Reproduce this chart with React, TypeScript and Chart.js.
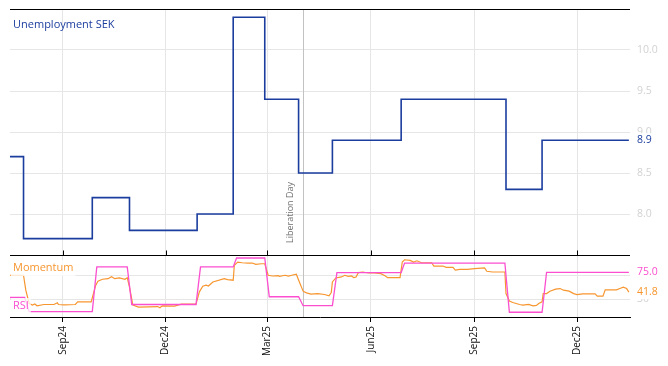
import React, { useEffect, useRef } from 'react';
import { Chart, registerables } from 'chart.js';

Chart.register(...registerables);

const FAMILY = '"Open Sans", "DejaVu Sans", sans-serif';

// ---- Data ----
const startDate = '2024-07-16';
const endDate = '2026-01-17';

const tickDates = ['2024-09-01', '2024-12-01', '2025-03-01', '2025-06-01', '2025-09-01', '2025-12-01'];
const tickLabels = ['Sep24', 'Dec24', 'Mar25', 'Jun25', 'Sep25', 'Dec25'];

const unemploymentLabel = 'Unemployment SEK';
const unemploymentDates = [
  '2024-07-16', '2024-07-28', '2024-09-27', '2024-10-30', '2024-12-29', '2025-01-30',
  '2025-02-27', '2025-03-29', '2025-04-28', '2025-06-28', '2025-09-29', '2025-10-31', '2026-01-16',
];
const unemploymentValues = [8.7, 7.7, 8.2, 7.8, 8.0, 10.4, 9.4, 8.5, 8.9, 9.4, 8.3, 8.9, 8.9];

const rsiLabel = 'RSI';
const rsiDates = [
  '2024-07-16', '2024-07-29', '2024-08-02', '2024-09-27', '2024-10-01', '2024-10-28',
  '2024-11-01', '2024-12-28', '2025-01-01', '2025-01-30', '2025-02-02', '2025-02-27',
  '2025-03-03', '2025-03-29', '2025-04-02', '2025-04-28', '2025-05-02', '2025-06-28',
  '2025-07-01', '2025-09-28', '2025-10-02', '2025-10-31', '2025-11-04', '2026-01-16',
];
const rsiValues = [
  32.7, 32.7, 9, 9, 84, 84,
  21, 21, 84, 84, 99, 99,
  34, 34, 19, 19, 74.5, 74.5,
  90.5, 90.5, 8, 8, 75.0, 75.0,
];

const momentumLabel = 'Momentum';
const momentumDates = [
  '2024-07-16', '2024-07-28', '2024-07-30', '2024-08-02', '2024-08-05', '2024-08-07', '2024-08-09', '2024-08-15', '2024-08-24', '2024-08-27',
  '2024-08-28', '2024-09-02', '2024-09-12', '2024-09-14', '2024-09-26', '2024-09-30', '2024-10-02', '2024-10-06', '2024-10-11', '2024-10-14',
  '2024-10-17', '2024-10-21', '2024-10-26', '2024-10-28', '2024-10-30', '2024-11-02', '2024-11-07', '2024-11-16', '2024-11-24', '2024-11-26',
  '2024-11-28', '2024-12-09', '2024-12-15', '2024-12-28', '2024-12-31', '2025-01-03', '2025-01-06', '2025-01-08', '2025-01-12', '2025-01-22',
  '2025-01-25', '2025-01-30', '2025-01-31', '2025-02-03', '2025-02-07', '2025-02-12', '2025-02-16', '2025-02-19', '2025-02-24', '2025-02-27',
  '2025-03-02', '2025-03-06', '2025-03-11', '2025-03-12', '2025-03-17', '2025-03-20', '2025-03-23', '2025-03-27', '2025-03-29', '2025-04-02',
  '2025-04-05', '2025-04-09', '2025-04-15', '2025-04-21', '2025-04-25', '2025-04-27', '2025-04-28', '2025-05-01', '2025-05-06', '2025-05-09',
  '2025-05-12', '2025-05-15', '2025-05-17', '2025-05-19', '2025-05-21', '2025-05-25', '2025-05-30', '2025-06-04', '2025-06-10', '2025-06-14',
  '2025-06-16', '2025-06-27', '2025-06-29', '2025-07-01', '2025-07-06', '2025-07-09', '2025-07-12', '2025-07-16', '2025-07-25', '2025-07-27',
  '2025-08-04', '2025-08-07', '2025-08-13', '2025-08-15', '2025-08-19', '2025-08-26', '2025-09-01', '2025-09-10', '2025-09-12', '2025-09-17',
  '2025-09-28', '2025-09-29', '2025-10-02', '2025-10-05', '2025-10-08', '2025-10-11', '2025-10-14', '2025-10-19', '2025-10-23', '2025-10-26',
  '2025-10-28', '2025-10-31', '2025-11-01', '2025-11-04', '2025-11-07', '2025-11-12', '2025-11-16', '2025-11-19', '2025-11-24', '2025-11-28',
  '2025-12-01', '2025-12-06', '2025-12-17', '2025-12-19', '2025-12-24', '2025-12-26', '2026-01-05', '2026-01-08', '2026-01-11', '2026-01-14',
  '2026-01-16',
];
const momentumValues = [
  70, 70, 45, 22.7, 20, 21.7, 18.8, 21, 21, 23.8,
  21, 20.5, 21, 25.5, 25.5, 53, 60, 63.3, 64.3, 67.7,
  64.3, 65.5, 63.3, 66, 50, 20, 16.7, 17, 17.5, 15.5,
  18.8, 18.3, 21.7, 21.7, 42.2, 51.7, 53.3, 52, 58.8, 64.3,
  62.7, 61.7, 86.7, 92.2, 91, 90.5, 90.5, 88.3, 89.3, 89.3,
  70, 68.8, 69.5, 68.3, 70, 68.5, 70, 71.7, 62, 43.3,
  40.5, 38.3, 39.3, 37.7, 35.5, 41, 58.8, 65.5, 67.2, 70,
  68.3, 68.8, 66, 67, 74.4, 75.5, 73.8, 73.8, 72.7, 68.8,
  66, 66, 92.2, 96, 95, 92.2, 94.3, 91, 91, 85.5,
  85.5, 83.3, 83.3, 78.8, 80, 80, 81, 82.2, 76.7, 75.5,
  75.5, 39.3, 26.7, 24.3, 22.7, 21, 20, 21, 18.8, 19.5,
  22.7, 25.5, 39.3, 39.3, 43.3, 46.7, 47.7, 45, 43.3, 39.3,
  37.7, 38.8, 38.8, 35, 35, 45.5, 45.5, 47.7, 50, 47.7,
  41.8,
];

const topTicks = [8.0, 8.5, 9.0, 9.5, 10.0];
const bottomTicks = [30, 70];

const eventDate = '2025-04-02';
const eventLabel = 'Liberation Day';

// ---- Styles ----
const BLUE = '#1b3d9e';
const ORANGE = '#f7962f';
const PINK = '#fb4fd0';

const toDay = (s: string) =>
  Date.UTC(+s.slice(0, 4), +s.slice(5, 7) - 1, +s.slice(8, 10)) / 86400000;

const zip = (dates: string[], values: number[]) =>
  dates.map((d, i) => ({ x: toDay(d), y: values[i] }));

const drawBoxedText = (
  ctx: CanvasRenderingContext2D,
  text: string,
  x: number,
  y: number,
  color: string,
  font: string,
  bg: string,
  pad: number
) => {
  ctx.font = font;
  const w = ctx.measureText(text).width;
  ctx.fillStyle = bg;
  ctx.fillRect(x - pad, y - 7 - pad / 2, w + pad * 2, 14 + pad);
  ctx.fillStyle = color;
  ctx.textAlign = 'left';
  ctx.textBaseline = 'middle';
  ctx.fillText(text, x, y);
};

const panelPlugin = {
  id: 'panelDecor',
  beforeDatasetsDraw(chart: any) {
    const { ctx, chartArea, scales } = chart;
    const lx = Math.round(scales.x.getPixelForValue(toDay(eventDate))) + 0.5;
    ctx.save();
    ctx.strokeStyle = '#c2c2c2';
    ctx.lineWidth = 1;
    ctx.beginPath();
    ctx.moveTo(lx, chartArea.top);
    ctx.lineTo(lx, chartArea.bottom);
    ctx.stroke();
    ctx.translate(lx - 10.5, scales.y.bottom - 12);
    ctx.rotate(-Math.PI / 2);
    ctx.fillStyle = '#6f6f6f';
    ctx.font = `9px ${FAMILY}`;
    ctx.textAlign = 'left';
    ctx.textBaseline = 'alphabetic';
    ctx.fillText(eventLabel, 0, 0);
    ctx.restore();
  },
  afterDatasetsDraw(chart: any) {
    const { ctx, chartArea, scales } = chart;
    ctx.save();
    const left = chartArea.left + 3;
    ctx.font = `11px ${FAMILY}`;
    ctx.fillStyle = BLUE;
    ctx.textAlign = 'left';
    ctx.textBaseline = 'middle';
    ctx.fillText(unemploymentLabel, left, chartArea.top + 16);
    drawBoxedText(ctx, momentumLabel, left, scales.y2.top + 13, ORANGE, `11px ${FAMILY}`, 'rgba(255,255,255,0.75)', 2);
    drawBoxedText(ctx, rsiLabel, left, scales.y2.bottom - 11, PINK, `11px ${FAMILY}`, 'rgba(255,255,255,0.75)', 2);
    ctx.restore();
  },
  afterDraw(chart: any) {
    const { ctx, chartArea, scales } = chart;
    ctx.save();
    ctx.strokeStyle = '#000';
    ctx.lineWidth = 1;
    const topY = Math.floor(chartArea.top) + 0.5;
    const midY = Math.floor(scales.y.bottom) + 0.5;
    ctx.beginPath();
    ctx.moveTo(chartArea.left, topY);
    ctx.lineTo(chartArea.right, topY);
    ctx.moveTo(chartArea.left, midY);
    ctx.lineTo(chartArea.right, midY);
    scales.x.ticks.forEach((t: any) => {
      const px = Math.round(scales.x.getPixelForValue(t.value)) + 0.5;
      ctx.moveTo(px, midY);
      ctx.lineTo(px, midY - 5);
    });
    ctx.stroke();

    const vx = chartArea.right + 7;
    const font = `10.5px ${FAMILY}`;
    const lastU = unemploymentValues[unemploymentValues.length - 1];
    const lastR = rsiValues[rsiValues.length - 1];
    const lastM = momentumValues[momentumValues.length - 1];
    drawBoxedText(ctx, lastU.toFixed(1), vx, scales.y.getPixelForValue(lastU), BLUE, font, '#fff', 0);
    drawBoxedText(ctx, lastR.toFixed(1), vx, scales.y2.getPixelForValue(lastR), PINK, font, '#fff', 0);
    drawBoxedText(ctx, lastM.toFixed(1), vx, scales.y2.getPixelForValue(lastM), ORANGE, font, '#fff', 0);
    ctx.restore();
  },
};

const fitY = (s: any) => {
  s.width = 38;
  s.paddingTop = 0;
  s.paddingBottom = 0;
};

export default function App() {
  const ref = useRef<HTMLCanvasElement>(null);

  useEffect(() => {
    if (!ref.current) return;
    const chart = new Chart(ref.current, {
      type: 'line',
      data: {
        datasets: [
          {
            label: unemploymentLabel,
            data: zip(unemploymentDates, unemploymentValues),
            yAxisID: 'y',
            borderColor: BLUE,
            borderWidth: 1.6,
            stepped: true,
            pointRadius: 0,
          },
          {
            label: rsiLabel,
            data: zip(rsiDates, rsiValues),
            yAxisID: 'y2',
            borderColor: PINK,
            borderWidth: 1.3,
            pointRadius: 0,
          },
          {
            label: momentumLabel,
            data: zip(momentumDates, momentumValues),
            yAxisID: 'y2',
            borderColor: ORANGE,
            borderWidth: 1.2,
            pointRadius: 0,
          },
        ],
      },
      options: {
        animation: false,
        responsive: false,
        layout: { padding: { left: 10, top: 9, right: 0, bottom: 0 } },
        plugins: { legend: { display: false }, tooltip: { enabled: false } },
        scales: {
          x: {
            type: 'linear',
            min: toDay(startDate),
            max: toDay(endDate),
            afterBuildTicks: (s: any) => {
              s.ticks = tickDates.map((d) => ({ value: toDay(d) }));
            },
            afterFit: (s: any) => {
              s.height = 49;
              s.paddingLeft = 0;
              s.paddingRight = 0;
            },
            grid: { color: '#e6e6e6', tickColor: '#000', tickLength: 5, drawTicks: true },
            border: { color: '#000', width: 1 },
            ticks: {
              autoSkip: false,
              minRotation: 90,
              maxRotation: 90,
              padding: 4,
              color: '#111',
              font: { size: 10, family: FAMILY },
              callback: (_v: any, i: number) => tickLabels[i] ?? '',
            },
          },
          y: {
            type: 'linear',
            position: 'right',
            stack: 'panels',
            stackWeight: 246,
            min: 7.5,
            max: 10.5,
            afterBuildTicks: (s: any) => {
              s.ticks = topTicks.map((v) => ({ value: v }));
            },
            afterFit: fitY,
            grid: { color: '#e6e6e6', drawTicks: false },
            border: { display: false },
            ticks: {
              padding: 7,
              color: '#d2d2d2',
              font: { size: 10.5, family: FAMILY },
              callback: (v: any) => Number(v).toFixed(1),
            },
          },
          y2: {
            type: 'linear',
            position: 'right',
            stack: 'panels',
            stackWeight: 62,
            min: 0,
            max: 104,
            afterBuildTicks: (s: any) => {
              s.ticks = bottomTicks.map((v) => ({ value: v }));
            },
            afterFit: fitY,
            grid: { color: '#e6e6e6', drawTicks: false },
            border: { display: false },
            ticks: {
              padding: 7,
              color: '#d2d2d2',
              font: { size: 10.5, family: FAMILY },
              callback: (v: any) => String(v),
            },
          },
        },
      } as any,
      plugins: [panelPlugin],
    });
    return () => chart.destroy();
  }, []);

  return (
    <div style={{ position: 'fixed', left: 0, top: 0, width: 668, height: 366, background: '#fff' }}>
      <canvas ref={ref} width={668} height={366} style={{ display: 'block', width: 668, height: 366 }} />
    </div>
  );
}
